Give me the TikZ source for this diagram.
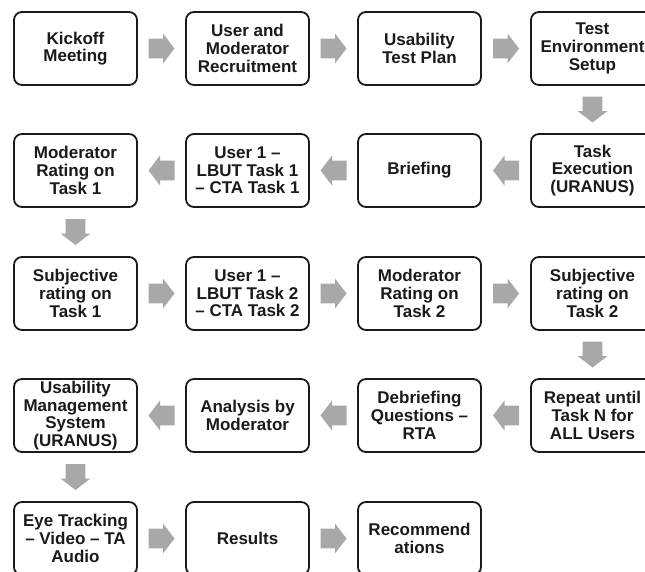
\documentclass[tikz,border=0pt]{standalone}
\usepackage{fontspec}
\setmainfont{Liberation Sans}
\usetikzlibrary{calc}
\definecolor{arrowgray}{HTML}{A8A8A8}
\definecolor{inkblack}{HTML}{1A1A1A}
\tikzset{
  stepbox/.style={draw=inkblack, line width=1.8pt, rounded corners=8pt, fill=white,
    minimum width=123pt, minimum height=73pt, inner sep=0pt, align=center,
    text=inkblack, font=\fontsize{17}{17.7}\selectfont\bfseries},
  flowarrow/.pic={
    \fill[arrowgray] (-13,-9.8) -- (1.5,-9.8) -- (1.5,-15) -- (13,0)
      -- (1.5,15) -- (1.5,9.8) -- (-13,9.8) -- cycle;
  }
}
\begin{document}
\begin{tikzpicture}[x=1pt,y=1pt]
\useasboundingbox (0,0) rectangle (645,-571);
\clip (0,0) rectangle (645,-571);
% row 1
\node[stepbox] (a1) at (75.5,-48.5) {Kickoff\\Meeting};
\node[stepbox] (a2) at (247.5,-48.5) {User and\\Moderator\\Recruitment};
\node[stepbox] (a3) at (419.5,-48.5) {Usability\\Test Plan};
\node[stepbox] (a4) at (592.5,-48.5) {Test\\Environment\\Setup};
% row 2
\node[stepbox] (b1) at (75.5,-170.5) {Moderator\\Rating on\\Task 1};
\node[stepbox] (b2) at (247.5,-170.5) {User 1 –\\LBUT Task 1\\– CTA Task 1};
\node[stepbox] (b3) at (419.5,-170.5) {Briefing};
\node[stepbox] (b4) at (592.5,-170.5) {Task\\Execution\\(URANUS)};
% row 3
\node[stepbox] (c1) at (75.5,-293.5) {Subjective\\rating on\\Task 1};
\node[stepbox] (c2) at (247.5,-293.5) {User 1 –\\LBUT Task 2\\– CTA Task 2};
\node[stepbox] (c3) at (419.5,-293.5) {Moderator\\Rating on\\Task 2};
\node[stepbox] (c4) at (592.5,-293.5) {Subjective\\rating on\\Task 2};
% row 4
\node[stepbox] (d1) at (75.5,-415.5) {Usability\\Management\\System\\(URANUS)};
\node[stepbox] (d2) at (247.5,-415.5) {Analysis by\\Moderator};
\node[stepbox] (d3) at (419.5,-415.5) {Debriefing\\Questions –\\RTA};
\node[stepbox] (d4) at (592.5,-415.5) {Repeat until\\Task N for\\ALL Users};
% row 5
\node[stepbox] (e1) at (75.5,-538.5) {Eye Tracking\\– Video – TA\\Audio};
\node[stepbox] (e2) at (247.5,-538.5) {Results};
\node[stepbox] (e3) at (419.5,-538.5) {Recommend\\ations};
% arrows, each placed midway between the two steps it links
\path ($(a1.east)!0.5!(a2.west)$) pic {flowarrow};
\path ($(a2.east)!0.5!(a3.west)$) pic {flowarrow};
\path ($(a3.east)!0.5!(a4.west)$) pic {flowarrow};
\path ($(a4.south)!0.5!(b4.north)$) pic[rotate=-90] {flowarrow};
\path ($(b4.west)!0.5!(b3.east)$) pic[rotate=180] {flowarrow};
\path ($(b3.west)!0.5!(b2.east)$) pic[rotate=180] {flowarrow};
\path ($(b2.west)!0.5!(b1.east)$) pic[rotate=180] {flowarrow};
\path ($(b1.south)!0.5!(c1.north)$) pic[rotate=-90] {flowarrow};
\path ($(c1.east)!0.5!(c2.west)$) pic {flowarrow};
\path ($(c2.east)!0.5!(c3.west)$) pic {flowarrow};
\path ($(c3.east)!0.5!(c4.west)$) pic {flowarrow};
\path ($(c4.south)!0.5!(d4.north)$) pic[rotate=-90] {flowarrow};
\path ($(d4.west)!0.5!(d3.east)$) pic[rotate=180] {flowarrow};
\path ($(d3.west)!0.5!(d2.east)$) pic[rotate=180] {flowarrow};
\path ($(d2.west)!0.5!(d1.east)$) pic[rotate=180] {flowarrow};
\path ($(d1.south)!0.5!(e1.north)$) pic[rotate=-90] {flowarrow};
\path ($(e1.east)!0.5!(e2.west)$) pic {flowarrow};
\path ($(e2.east)!0.5!(e3.west)$) pic {flowarrow};
\end{tikzpicture}
\end{document}
